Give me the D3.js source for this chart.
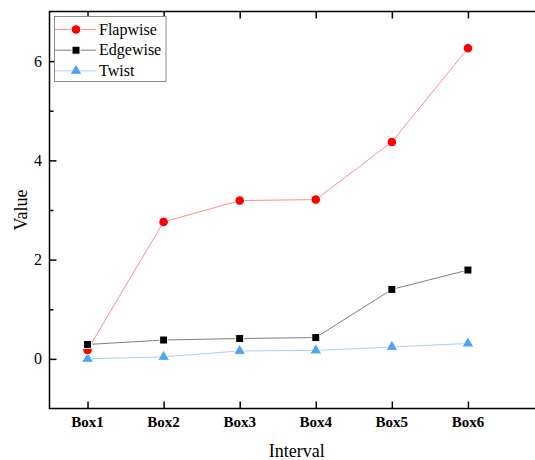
<!DOCTYPE html>
<html>
<head>
<meta charset="utf-8">
<script src="https://cdn.jsdelivr.net/npm/d3@7"></script>
<style>
  html, body { margin: 0; padding: 0; background: #fff; }
  svg { display: block; }
  svg text { font-family: "Liberation Serif", "Times New Roman", Times, serif; }
</style>
</head>
<body>
<svg id="chart" width="535" height="460"></svg>
<script>
// Categories and series
const categories = ["Box1", "Box2", "Box3", "Box4", "Box5", "Box6"];
const flapwise = [0.18, 2.76, 3.19, 3.21, 4.37, 6.26];
const edgewise = [0.29, 0.38, 0.41, 0.43, 1.40, 1.79];
const twist    = [0.00, 0.04, 0.16, 0.17, 0.24, 0.31];
const yTicks = [0, 2, 4, 6];
const yMinorTicks = [1, 3, 5];

const series = [
  { name: "Flapwise", values: flapwise, line: "#ff8c8c", fill: "#ff0000", shape: "circle" },
  { name: "Edgewise", values: edgewise, line: "#7f7f7f", fill: "#000000", shape: "square" },
  { name: "Twist",    values: twist,    line: "#a6cffa", fill: "#4da3f7", shape: "triangle" }
];

const FONT = "'Liberation Serif', 'Times New Roman', Times, serif";
const svg = d3.select("#chart").attr("font-family", FONT);
const plotLeft = 49.5, plotRight = 544, plotTop = 11.5, plotBottom = 408.5;

// x: category index, with half a step of padding before the first box
const x = d3.scaleLinear().domain([0.5, 7]).range([plotLeft, plotRight]);
const y = d3.scaleLinear().domain([-1, 7]).range([plotBottom, plotTop]);

// Frame
svg.append("rect")
  .attr("x", plotLeft).attr("y", plotTop)
  .attr("width", plotRight - plotLeft).attr("height", plotBottom - plotTop)
  .attr("fill", "none").attr("stroke", "#000").attr("stroke-width", 1.5);

// Axes with inward ticks
const xIdx = categories.map((d, i) => i + 1);
const bottomAxis = d3.axisBottom(x).tickValues(xIdx).tickSize(-7).tickFormat("");
const topAxis = d3.axisTop(x).tickValues(xIdx).tickSize(-7).tickFormat("");
const leftAxis = d3.axisLeft(y).tickValues(yTicks).tickSize(-7).tickFormat("");
const leftMinor = d3.axisLeft(y).tickValues(yMinorTicks).tickSize(-4).tickFormat("");

function styleAxis(g) {
  g.select(".domain").remove();
  g.selectAll(".tick line").attr("stroke", "#000").attr("stroke-width", 1.5);
}
svg.append("g").attr("transform", `translate(0,${plotBottom})`).call(bottomAxis).call(styleAxis);
svg.append("g").attr("transform", `translate(0,${plotTop})`).call(topAxis).call(styleAxis);
svg.append("g").attr("transform", `translate(${plotLeft},0)`).call(leftAxis).call(styleAxis);
svg.append("g").attr("transform", `translate(${plotLeft},0)`).call(leftMinor).call(styleAxis);

// Tick labels
svg.append("g").selectAll("text").data(categories).join("text")
  .attr("x", (d, i) => x(i + 1)).attr("y", 427)
  .attr("font-family", FONT)
  .attr("text-anchor", "middle").attr("font-size", 15).attr("font-weight", "bold")
  .text(d => d);

svg.append("g").selectAll("text").data(yTicks).join("text")
  .attr("x", 42).attr("y", d => y(d)).attr("dy", "0.34em")
  .attr("font-family", FONT)
  .attr("text-anchor", "end").attr("font-size", 16)
  .text(d => d);

// Axis titles
svg.append("text").attr("x", (plotLeft + plotRight) / 2).attr("y", 456.5)
  .attr("font-family", FONT)
  .attr("text-anchor", "middle").attr("font-size", 18).text("Interval");
svg.append("text").attr("transform", `translate(27,${(plotTop + plotBottom) / 2}) rotate(-90)`)
  .attr("font-family", FONT)
  .attr("text-anchor", "middle").attr("font-size", 18).text("Value");

// Marker drawing
const symbols = {
  circle: d3.symbol().type(d3.symbolCircle).size(72),
  square: d3.symbol().type(d3.symbolSquare).size(64),
  triangle: d3.symbol().type(d3.symbolTriangle).size(62)
};
function drawMarker(g, s, cx, cy) {
  g.append("path")
    .attr("d", symbols[s.shape]())
    .attr("transform", `translate(${cx},${cy})`)
    .attr("fill", s.fill).attr("stroke", "#fff").attr("stroke-width", 1);
}

const line = d3.line().x((d, i) => x(i + 1)).y(d => y(d));
// Draw series so that Flapwise sits below Edgewise at Box1
const order = [series[2], series[0], series[1]];
order.forEach(s => {
  const g = svg.append("g");
  g.append("path").datum(s.values).attr("d", line)
    .attr("fill", "none").attr("stroke", s.line).attr("stroke-width", 1);
  s.values.forEach((v, i) => drawMarker(g, s, x(i + 1), y(v)));
});

// Legend
const lg = svg.append("g");
lg.append("rect").attr("x", 54.5).attr("y", 16.5).attr("width", 111.5).attr("height", 65)
  .attr("fill", "#fff").attr("stroke", "#8c8c8c").attr("stroke-width", 1);
series.forEach((s, i) => {
  const ly = 29.5 + i * 20.7;
  lg.append("line").attr("x1", 55).attr("x2", 96).attr("y1", ly).attr("y2", ly)
    .attr("stroke", s.line).attr("stroke-width", 1);
  drawMarker(lg, s, 76, ly);
  lg.append("text").attr("x", 99).attr("y", ly).attr("dy", "0.33em")
    .attr("font-family", FONT)
    .attr("font-size", 16).text(s.name);
});
</script>
</body>
</html>
